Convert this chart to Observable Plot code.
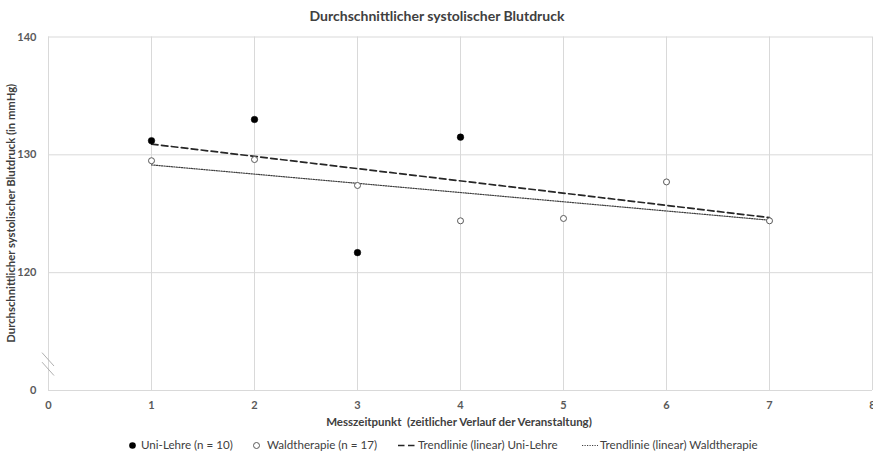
<!DOCTYPE html>
<html>
<head>
<meta charset="utf-8">
<script src="https://cdn.jsdelivr.net/npm/d3@7"></script>
<script src="https://cdn.jsdelivr.net/npm/@observablehq/plot@0.6"></script>
<style>
  html, body { margin: 0; padding: 0; background: #fff; }
  #wrap { position: relative; width: 873px; height: 454px; overflow: hidden; font-family: Lato, "Open Sans", sans-serif; }
  #title { position: absolute; left: 0; top: 6px; width: 874px; text-align: center;
           font-weight: bold; font-size: 14px; color: #404040; line-height: 20px; }
  .leg { position: absolute; top: 437px; height: 16px; line-height: 16px; font-size: 11.6px; color: #404040; white-space: nowrap; display: flex; align-items: center; }
</style>
</head>
<body>
<div id="wrap">
  <div id="chart"></div>
  <div id="title">Durchschnittlicher systolischer Blutdruck</div>
  <div id="legend"></div>
</div>
<script>
// ---- data ----
const xTicks = [0, 1, 2, 3, 4, 5, 6, 7, 8];
const yTicks = [110, 120, 130, 140];
const yTickLabels = ["0", "120", "130", "140"];
const uniX = [1, 2, 3, 4];
const uniY = [131.2, 133.0, 121.7, 131.5];
const waldX = [1, 2, 3, 4, 5, 6, 7];
const waldY = [129.5, 129.6, 127.4, 124.4, 124.6, 127.7, 124.4];
const trendRange = [1, 7];
const seriesNames = ["Uni-Lehre (n = 10)", "Waldtherapie (n = 17)", "Trendlinie (linear) Uni-Lehre", "Trendlinie (linear) Waldtherapie"];
const xLabel = "Messzeitpunkt  (zeitlicher Verlauf der Veranstaltung)";
const yLabel = "Durchschnittlicher systolischer Blutdruck (in mmHg)";

// ---- derived ----
const uni = uniX.map((x, i) => ({x, y: uniY[i]}));
const wald = waldX.map((x, i) => ({x, y: waldY[i]}));
function regression(xs, ys) {
  const mx = d3.mean(xs), my = d3.mean(ys);
  const sxy = d3.sum(xs, (x, i) => (x - mx) * (ys[i] - my));
  const sxx = d3.sum(xs, x => (x - mx) ** 2);
  const b = sxy / sxx, a = my - b * mx;
  return trendRange.map(x => ({x, y: a + b * x}));
}
const trendUni = regression(uniX, uniY);
const trendWald = regression(waldX, waldY);

const grid = "#d9d9d9";
const tickColor = "#595959";

const chart = Plot.plot({
  width: 873,
  height: 454,
  marginLeft: 48,
  marginRight: 1,
  marginTop: 36.5,
  marginBottom: 64,
  style: {fontFamily: "Lato, 'Open Sans', sans-serif", background: "white", overflow: "visible"},
  x: {domain: [0, 8]},
  y: {domain: [110, 140]},
  marks: [
    Plot.gridX(xTicks, {stroke: grid, strokeOpacity: 1, strokeWidth: 1}),
    Plot.gridY(yTicks, {stroke: grid, strokeOpacity: 1, strokeWidth: 1}),
    Plot.axisX(xTicks, {tickSize: 0, tickPadding: 11, fontSize: 11, fontWeight: "bold", fill: tickColor, label: null, tickFormat: d => String(d)}),
    Plot.axisY(yTicks, {tickSize: 0, tickPadding: 12, fontSize: 11, fontWeight: "bold", fill: tickColor, label: null,
                        tickFormat: d => yTickLabels[yTicks.indexOf(d)]}),
    Plot.line(trendWald, {x: "x", y: "y", stroke: "#404040", strokeWidth: 1.2, strokeDasharray: "1.2,1.3"}),
    Plot.line(trendUni, {x: "x", y: "y", stroke: "#262626", strokeWidth: 1.7, strokeDasharray: "6.5,3.5"}),
    Plot.dot(wald, {x: "x", y: "y", r: 3, fill: "white", stroke: "#595959", strokeWidth: 1}),
    Plot.dot(uni, {x: "x", y: "y", r: 3.3, fill: "black", stroke: "black", strokeWidth: 0.5})
  ]
});
document.getElementById("chart").appendChild(chart);

// axis titles and break marks
const svg = d3.select(chart);
const sx = chart.scale("x"), sy = chart.scale("y");
const x0 = sx.apply(0);
const yB = sy.apply(112.2);
[-4.75, 4.75].forEach(off => {
  svg.append("line")
    .attr("x1", x0 - 6).attr("y1", yB + off - 6.7)
    .attr("x2", x0 + 6).attr("y2", yB + off + 6.7)
    .attr("stroke", "#a6a6a6").attr("stroke-width", 0.9);
});
svg.append("text")
  .attr("x", (sx.apply(0) + sx.apply(8)) / 2 - 1)
  .attr("y", sy.apply(110) + 31.7)
  .attr("text-anchor", "middle").attr("dominant-baseline", "central")
  .attr("font-weight", "bold").attr("font-size", 11.5).attr("fill", "#404040")
  .style("white-space", "pre")
  .text(xLabel);
svg.append("text")
  .attr("transform", `translate(10,${(sy.apply(110) + sy.apply(140)) / 2}) rotate(-90)`)
  .attr("text-anchor", "middle").attr("dominant-baseline", "central")
  .attr("font-weight", "bold").attr("font-size", 11.25).attr("fill", "#404040")
  .text(yLabel);

// legend
const legend = document.getElementById("legend");
const legendItems = [
  {left: 128, gap: 4, sym: '<svg width="9" height="9"><circle cx="4.5" cy="4.5" r="3.3" fill="black"/></svg>'},
  {left: 252, gap: 3, sym: '<svg width="12" height="9"><circle cx="4.5" cy="4.5" r="3" fill="white" stroke="#595959"/></svg>'},
  {left: 398, gap: 1, sym: '<svg width="19" height="9"><line x1="0" y1="4.5" x2="19" y2="4.5" stroke="#262626" stroke-width="1.7" stroke-dasharray="6.5,3.5"/></svg>'},
  {left: 582, gap: 2, sym: '<svg width="16" height="9"><line x1="0" y1="4.5" x2="16" y2="4.5" stroke="#404040" stroke-width="1.2" stroke-dasharray="1.2,1.3"/></svg>'}
];
legendItems.forEach((it, i) => {
  const d = document.createElement("div");
  d.className = "leg";
  d.style.left = it.left + "px";
  d.innerHTML = it.sym;
  d.firstChild.style.marginRight = it.gap + "px";
  const s = document.createElement("span");
  s.textContent = seriesNames[i];
  d.appendChild(s);
  legend.appendChild(d);
});
</script>
</body>
</html>
